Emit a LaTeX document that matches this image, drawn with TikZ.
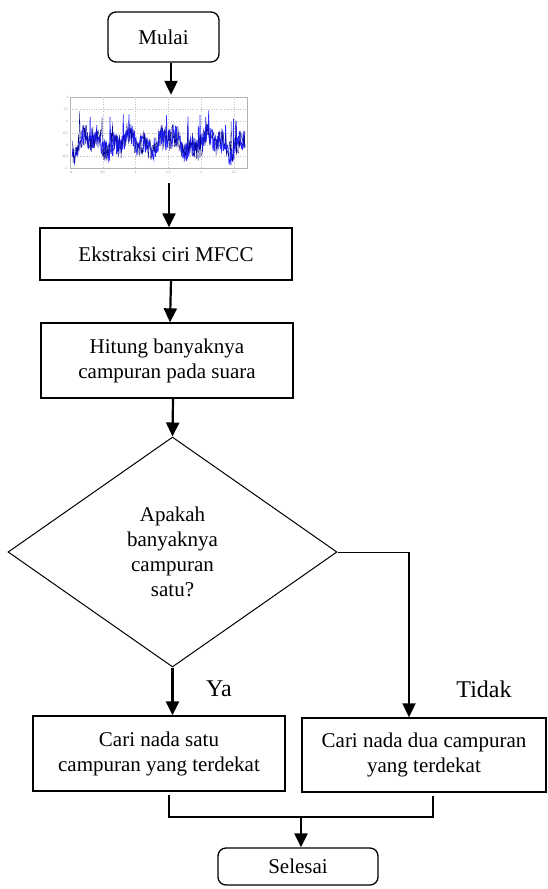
\documentclass[tikz,border=0pt]{standalone}
\usepackage{fontspec}
\setmainfont{Liberation Serif}
\usetikzlibrary{shapes.geometric, arrows.meta}

\begin{document}
\begin{tikzpicture}[x=1pt, y=-1pt,
    every node/.style={font=\fontsize{21}{25}\selectfont, align=center, inner sep=0pt},
    proses/.style={rectangle, draw, line width=1.3pt, minimum width=252pt, minimum height=52pt},
    terminal/.style={rectangle, draw, rounded corners=8pt, line width=1.3pt},
    keputusan/.style={diamond, draw, line width=1pt, minimum width=329pt, minimum height=230pt},
    panah/.style={-{Triangle[width=13pt,length=14pt]}, line width=2.2pt},
    garis/.style={line width=1.6pt},
    jawab/.style={font=\fontsize{24}{28}\selectfont},
    skala/.style={font=\fontsize{3.5}{4}\selectfont, text=gray}
]
\useasboundingbox (0,0) rectangle (548,889);

% ----- mulai -----
\node[terminal, minimum width=111pt, minimum height=50pt] (mulai) at (163.5,37) {Mulai};

% ----- sinyal suara -----
\node[draw=gray!60, line width=0.4pt, minimum width=177pt, minimum height=71pt] (sinyal) at (158.5,132.5) {};
\begin{scope}
\clip (sinyal.south west) rectangle (sinyal.north east);
\foreach \gx in {102.8,135.6,168.4,201.2,234}
    \draw[gray!50, dotted, line width=0.4pt] (\gx,97) -- (\gx,168);
\foreach \gy in {109,121,133,145,156.5}
    \draw[gray!50, dotted, line width=0.4pt] (70,\gy) -- (247,\gy);
\pgfmathsetseed{11}
\draw[blue!85, line width=0.7pt] plot[domain=72:245, samples=420]
    (\x, {143 - 7*sin(9*\x) - 4*sin(23*\x) + 11*rand - 22*(rnd>0.97)});
\pgfmathsetseed{5}
\draw[blue!50!black, line width=0.3pt] plot[domain=72:245, samples=300]
    (\x, {143 - 7*sin(9*\x) - 4*sin(23*\x) + 13*rand - 20*(rnd>0.97)});
\end{scope}
\foreach \t/\gx [count=\i] in {0/71,0.5/102.8,1/135.6,1.5/168.4,2/201.2,2.5/234}
    \node[skala] (tx\i) at (\gx,172) {\t};
\foreach \t/\gy [count=\i] in {2/97,1.5/109,1/121,0.5/133,0/145,-0.5/156.5,-1/168}
    \node[skala, anchor=east] (ty\i) at (68,\gy) {\t};

% ----- proses -----
\node[proses] (ekstraksi) at (166,254) {Ekstraksi ciri MFCC};
\node[proses, minimum height=75pt] (hitung) at (167,360.5) {Hitung banyaknya\\campuran pada suara};

% ----- keputusan -----
\node[keputusan] (tanya) at (172.5,552) {Apakah\\banyaknya\\campuran\\satu?};
\node[jawab] (ya) at (219,689) {Ya};
\node[jawab] (tidak) at (484,689) {Tidak};

% ----- cabang -----
\node[proses, minimum height=75pt] (satu) at (159,753.5) {Cari nada satu\\campuran yang terdekat};
\node[proses, minimum width=244pt, minimum height=74pt] (dua) at (424,755) {Cari nada dua campuran\\yang terdekat};

% ----- selesai -----
\node[terminal, minimum width=160pt, minimum height=37pt] (selesai) at (298,866.5) {Selesai};

\coordinate (belok) at (409,552);
\coordinate (gabung) at (301,817);

% ----- panah -----
\draw[panah] ([xshift=7.5pt]mulai.south) -- ([xshift=12.5pt,yshift=2pt]sinyal.north);
\draw[panah] ([xshift=10.5pt,yshift=-15pt]sinyal.south) -- ([xshift=3pt]ekstraksi.north);
\draw[panah] ([xshift=5pt]ekstraksi.south) -- ([xshift=3pt]hitung.north);
\draw[panah] ([xshift=6pt]hitung.south) -- (tanya.north);
\draw[panah] (tanya.south) -- (tanya.south |- satu.north);
\draw[line width=1pt] (tanya.east) -- (belok);
\draw[panah, line width=1.8pt] (belok) -- (belok |- dua.north);
\draw[garis] ([xshift=10pt,yshift=-3pt]satu.south) |- (gabung) -| ([xshift=9pt,yshift=-3pt]dua.south);
\draw[panah] (gabung) -- (gabung |- selesai.north);

\end{tikzpicture}
\end{document}
